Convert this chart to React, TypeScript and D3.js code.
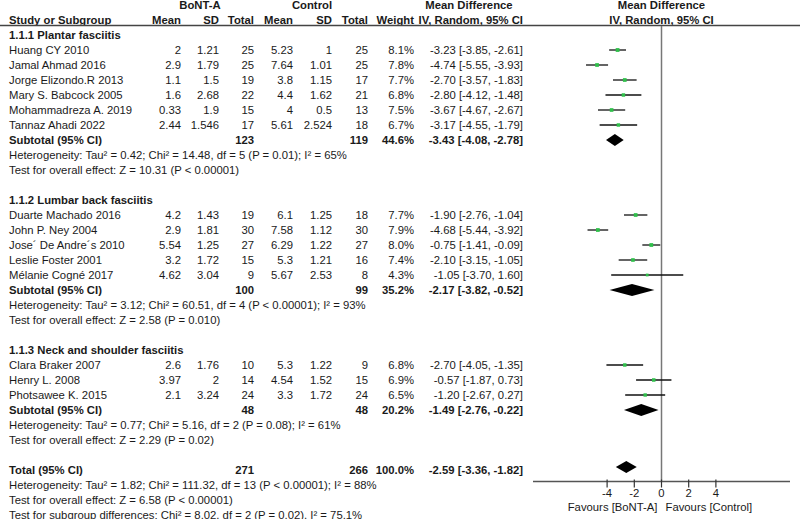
import React from "react";
import * as d3 from "d3";

const groupNames = ["1.1.1 Plantar fasciitis", "1.1.2 Lumbar back fasciitis", "1.1.3 Neck and shoulder fasciitis"];

const studyNames = [
  ["Huang CY 2010", "Jamal Ahmad 2016", "Jorge Elizondo.R 2013", "Mary S. Babcock 2005", "Mohammadreza A. 2019", "Tannaz Ahadi 2022"],
  ["Duarte Machado 2016", "John P. Ney 2004", "Jose´ De Andre´s 2010", "Leslie Foster 2001", "Mélanie Cogné 2017"],
  ["Clara Braker 2007", "Henry L. 2008", "Photsawee K. 2015"],
];
const expMean = [[2, 2.9, 1.1, 1.6, 0.33, 2.44], [4.2, 2.9, 5.54, 3.2, 4.62], [2.6, 3.97, 2.1]];
const expSD = [[1.21, 1.79, 1.5, 2.68, 1.9, 1.546], [1.43, 1.81, 1.25, 1.72, 3.04], [1.76, 2, 3.24]];
const expN = [[25, 25, 19, 22, 15, 17], [19, 30, 27, 15, 9], [10, 14, 24]];
const ctlMean = [[5.23, 7.64, 3.8, 4.4, 4, 5.61], [6.1, 7.58, 6.29, 5.3, 5.67], [5.3, 4.54, 3.3]];
const ctlSD = [[1, 1.01, 1.15, 1.62, 0.5, 2.524], [1.25, 1.12, 1.22, 1.21, 2.53], [1.22, 1.52, 1.72]];
const ctlN = [[25, 25, 17, 21, 13, 18], [18, 30, 27, 16, 8], [9, 15, 24]];
const weights = [[8.1, 7.8, 7.7, 6.8, 7.5, 6.7], [7.7, 7.9, 8.0, 7.4, 4.3], [6.8, 6.9, 6.5]];
const md = [[-3.23, -4.74, -2.70, -2.80, -3.67, -3.17], [-1.90, -4.68, -0.75, -2.10, -1.05], [-2.70, -0.57, -1.20]];
const lo = [[-3.85, -5.55, -3.57, -4.12, -4.67, -4.55], [-2.76, -5.44, -1.41, -3.15, -3.70], [-4.05, -1.87, -2.67]];
const hi = [[-2.61, -3.93, -1.83, -1.48, -2.67, -1.79], [-1.04, -3.92, -0.09, -1.05, 1.60], [-1.35, 0.73, 0.27]];

const subExpN = [123, 100, 48];
const subCtlN = [119, 99, 48];
const subWeight = [44.6, 35.2, 20.2];
const subMd = [-3.43, -2.17, -1.49];
const subLo = [-4.08, -3.82, -2.76];
const subHi = [-2.78, -0.52, -0.22];
const subHet = [
  "Heterogeneity: Tau² = 0.42; Chi² = 14.48, df = 5 (P = 0.01); I² = 65%",
  "Heterogeneity: Tau² = 3.12; Chi² = 60.51, df = 4 (P < 0.00001); I² = 93%",
  "Heterogeneity: Tau² = 0.77; Chi² = 5.16, df = 2 (P = 0.08); I² = 61%",
];
const subTest = [
  "Test for overall effect: Z = 10.31 (P < 0.00001)",
  "Test for overall effect: Z = 2.58 (P = 0.010)",
  "Test for overall effect: Z = 2.29 (P = 0.02)",
];

const totalExpN = 271;
const totalCtlN = 266;
const totalWeight = 100.0;
const totalMd = -2.59;
const totalLo = -3.36;
const totalHi = -1.82;
const totalNotes = [
  "Heterogeneity: Tau² = 1.82; Chi² = 111.32, df = 13 (P < 0.00001); I² = 88%",
  "Test for overall effect: Z = 6.58 (P < 0.00001)",
  "Test for subgroup differences: Chi² = 8.02, df = 2 (P = 0.02), I² = 75.1%",
];

const axisTicks = [-4, -2, 0, 2, 4];
const axisExtent = [-9.45, 9.45];
const favourLabels = ["Favours [BoNT-A]", "Favours [Control]"];

type Row =
  | { kind: "group"; label: string }
  | { kind: "study"; g: number; i: number }
  | { kind: "sub"; g: number }
  | { kind: "note"; label: string }
  | { kind: "blank" }
  | { kind: "total" };

const rows: Row[] = [];
groupNames.forEach((name, g) => {
  rows.push({ kind: "group", label: name });
  studyNames[g].forEach((_, i) => rows.push({ kind: "study", g, i }));
  rows.push({ kind: "sub", g });
  rows.push({ kind: "note", label: subHet[g] });
  rows.push({ kind: "note", label: subTest[g] });
  rows.push({ kind: "blank" });
});
rows.push({ kind: "total" });
totalNotes.forEach((t) => rows.push({ kind: "note", label: t }));

const W = 800;
const H = 519;
const FONT = "Arial, 'Liberation Sans', sans-serif";
const FS = 11.3;
const TXT = "#1a1a1a";

const fmt2 = (v: number) => v.toFixed(2);
const ciText = (m: number, l: number, h: number) => `${fmt2(m)} [${fmt2(l)}, ${fmt2(h)}]`;
const fmtNum = (v: number) => String(v);

export default function App() {
  const y = d3.scaleLinear().domain([0, rows.length - 1]).range([35, 35 + 15 * (rows.length - 1)]);
  const x = d3.scaleLinear().domain(axisExtent).range([533, 790]);
  const sq = d3.scaleSqrt().domain([0, 10]).range([0, 4.2]);

  const colX = { meanE: 181, sdE: 219, totE: 254, meanC: 293, sdC: 332, totC: 368, wt: 414, ci: 523 };
  const axisY = 481.5;
  const zeroX = x(0);

  const T = (props: any) => (
    <text fontFamily={FONT} fontSize={FS} fill={TXT} dy="0.35em" {...props} />
  );

  const diamond = (m: number, l: number, h: number, cy: number) => {
    const path = d3.path();
    path.moveTo(x(l), cy);
    path.lineTo(x(m), cy - 6);
    path.lineTo(x(h), cy);
    path.lineTo(x(m), cy + 6);
    path.closePath();
    return <path d={path.toString()} fill="#000" />;
  };

  const els: React.ReactNode[] = [];
  rows.forEach((r, idx) => {
    const cy = y(idx);
    if (r.kind === "group") {
      els.push(<T key={idx} x={9} y={cy} fontWeight="bold">{r.label}</T>);
    } else if (r.kind === "study") {
      const { g, i } = r;
      const s = sq(weights[g][i]);
      els.push(
        <g key={idx}>
          <T x={9} y={cy}>{studyNames[g][i]}</T>
          <T x={colX.meanE} y={cy} textAnchor="end">{fmtNum(expMean[g][i])}</T>
          <T x={colX.sdE} y={cy} textAnchor="end">{fmtNum(expSD[g][i])}</T>
          <T x={colX.totE} y={cy} textAnchor="end">{expN[g][i]}</T>
          <T x={colX.meanC} y={cy} textAnchor="end">{fmtNum(ctlMean[g][i])}</T>
          <T x={colX.sdC} y={cy} textAnchor="end">{fmtNum(ctlSD[g][i])}</T>
          <T x={colX.totC} y={cy} textAnchor="end">{ctlN[g][i]}</T>
          <T x={colX.wt} y={cy} textAnchor="end">{weights[g][i].toFixed(1)}%</T>
          <T x={colX.ci} y={cy} textAnchor="end">{ciText(md[g][i], lo[g][i], hi[g][i])}</T>
          <line x1={x(lo[g][i])} x2={x(hi[g][i])} y1={cy} y2={cy} stroke="#111" strokeWidth={1.3} />
          <rect x={x(md[g][i]) - s / 2} y={cy - s / 2} width={s} height={s} fill="#2fbf4a" />
        </g>
      );
    } else if (r.kind === "sub") {
      const g = r.g;
      els.push(
        <g key={idx} fontWeight="bold">
          <T x={9} y={cy} fontWeight="bold">Subtotal (95% CI)</T>
          <T x={colX.totE} y={cy} textAnchor="end" fontWeight="bold">{subExpN[g]}</T>
          <T x={colX.totC} y={cy} textAnchor="end" fontWeight="bold">{subCtlN[g]}</T>
          <T x={colX.wt} y={cy} textAnchor="end" fontWeight="bold">{subWeight[g].toFixed(1)}%</T>
          <T x={colX.ci} y={cy} textAnchor="end" fontWeight="bold">{ciText(subMd[g], subLo[g], subHi[g])}</T>
          {diamond(subMd[g], subLo[g], subHi[g], cy)}
        </g>
      );
    } else if (r.kind === "note") {
      els.push(<T key={idx} x={9} y={cy}>{r.label}</T>);
    } else if (r.kind === "total") {
      els.push(
        <g key={idx}>
          <T x={9} y={cy} fontWeight="bold">Total (95% CI)</T>
          <T x={colX.totE} y={cy} textAnchor="end" fontWeight="bold">{totalExpN}</T>
          <T x={colX.totC} y={cy} textAnchor="end" fontWeight="bold">{totalCtlN}</T>
          <T x={colX.wt} y={cy} textAnchor="end" fontWeight="bold">{totalWeight.toFixed(1)}%</T>
          <T x={colX.ci} y={cy} textAnchor="end" fontWeight="bold">{ciText(totalMd, totalLo, totalHi)}</T>
          {diamond(totalMd, totalLo, totalHi, cy - 3)}
        </g>
      );
    }
  });

  return (
    <svg width={W} height={H} style={{ position: "absolute", left: 0, top: 0, background: "#fff" }}>
      <rect width={W} height={H} fill="#fff" />
      {/* headers */}
      <T x={200} y={5.5} textAnchor="middle" fontWeight="bold">BoNT-A</T>
      <T x={312} y={5.5} textAnchor="middle" fontWeight="bold">Control</T>
      <T x={469} y={5.5} textAnchor="middle" fontWeight="bold">Mean Difference</T>
      <T x={zeroX} y={5.5} textAnchor="middle" fontWeight="bold">Mean Difference</T>
      <T x={9} y={20} fontWeight="bold">Study or Subgroup</T>
      <T x={colX.meanE} y={20} textAnchor="end" fontWeight="bold">Mean</T>
      <T x={colX.sdE} y={20} textAnchor="end" fontWeight="bold">SD</T>
      <T x={colX.totE} y={20} textAnchor="end" fontWeight="bold">Total</T>
      <T x={colX.meanC} y={20} textAnchor="end" fontWeight="bold">Mean</T>
      <T x={colX.sdC} y={20} textAnchor="end" fontWeight="bold">SD</T>
      <T x={colX.totC} y={20} textAnchor="end" fontWeight="bold">Total</T>
      <T x={colX.wt} y={20} textAnchor="end" fontWeight="bold">Weight</T>
      <T x={colX.ci} y={20} textAnchor="end" fontWeight="bold">IV, Random, 95% CI</T>
      <T x={zeroX} y={20} textAnchor="middle" fontWeight="bold">IV, Random, 95% CI</T>
      <line x1={0} x2={W} y1={25.5} y2={25.5} stroke="#444" strokeWidth={1.3} />
      {/* zero line */}
      <line x1={zeroX} x2={zeroX} y1={26} y2={axisY} stroke="#777" strokeWidth={1.5} />
      {els}
      {/* axis */}
      <line x1={x(axisExtent[0])} x2={x(axisExtent[1])} y1={axisY} y2={axisY} stroke="#555" strokeWidth={1.3} />
      {axisTicks.map((t) => (
        <g key={t}>
          <line x1={x(t)} x2={x(t)} y1={axisY - 2} y2={axisY + 6} stroke="#333" strokeWidth={1.2} />
          <T x={x(t)} y={493} textAnchor="middle">{t}</T>
        </g>
      ))}
      <T x={zeroX - 4} y={507} textAnchor="end">{favourLabels[0]}</T>
      <T x={zeroX + 4} y={507} textAnchor="start">{favourLabels[1]}</T>
    </svg>
  );
}
